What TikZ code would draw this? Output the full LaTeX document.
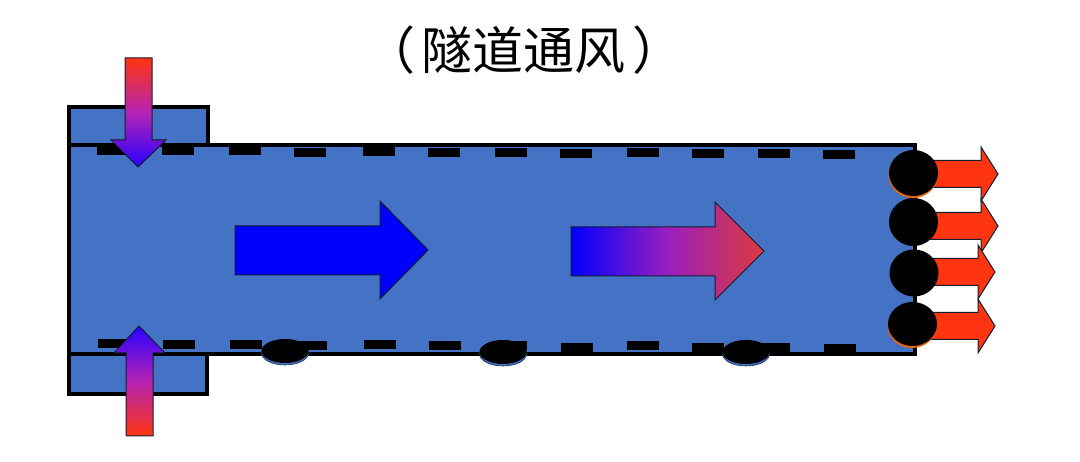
\documentclass[tikz,border=0pt]{standalone}
\usepackage{fontspec}
\newfontfamily\cjk{Noto Sans CJK SC}
\usetikzlibrary{shapes.geometric}
\definecolor{ductblue}{HTML}{4472C4}
\definecolor{flowred}{HTML}{FF3410}
\definecolor{flowblue}{HTML}{2800FF}
\definecolor{flowmid}{HTML}{B424B4}
\definecolor{flowend}{HTML}{DC3A3C}
\definecolor{fanrim}{HTML}{E8660A}
\tikzset{
  duct/.style={draw=black,fill=ductblue,line width=4pt,line join=miter},
  slot/.style={fill=black,draw=none},
  flowline/.style={draw=black!75!ductblue,line width=1pt,line join=miter},
  fan/.style={ellipse,fill=black,draw=none,minimum width=49pt,minimum height=#1,inner sep=0pt},
  damper/.style={ellipse,fill=black,draw=none,minimum width=47pt,minimum height=24pt,inner sep=0pt},
}
\begin{document}
\begin{tikzpicture}[x=1pt,y=-1pt]
  \useasboundingbox (0,0) rectangle (1080,462);
  \node (title) at (524,50) {\fontsize{51}{51}\selectfont\cjk （\hspace{7pt}隧道通风\hspace{7pt}）};
  % ducts and tunnel
  \draw[duct] (69,107) rectangle (208,145);
  \draw[duct] (69,354) rectangle (207,394);
  \draw[duct] (69,145) rectangle (915,354);
  % top slots
  \foreach \xa/\ya in {97/146,162/146,229/146,294/148,363/147,428/148,495/148,560/149,627/148,692/149,758/149,823/150}
    \fill[slot] (\xa,\ya) rectangle ++(32,9);
  % bottom slots
  \foreach \xa/\ya in {98/339,163/340,230/340,295/341,364/340,429/341,495/341,561/343,627/341,692/343,758/343,824/344}
    \fill[slot] (\xa,\ya) rectangle ++(32,9);
  % dampers on the floor
  \foreach \xa/\ya/\nm in {285/351/a,503/352/b,746/352/c} {
    \node[damper,fill=ductblue,draw=black!60!ductblue,line width=.6pt] (rim\nm) at (\xa,\ya+2) {};
    \node[damper] (damper\nm) at (\xa,\ya) {};
  }
  % exhaust arrows
  \foreach \ya/\xa in {174/998,226/998,272/995,326/995}
    \draw[flowline,fill=flowred] (925,\ya-13.5) -- (\xa-17,\ya-13.5) -- (\xa-17,\ya-27) -- (\xa,\ya) -- (\xa-17,\ya+27) -- (\xa-17,\ya+13.5) -- (925,\ya+13.5) -- cycle;
  % fans
  \node[fan=46pt,fill=fanrim] (rima) at (913,175) {};
  \node[fan=46pt] (fana) at (913.5,173) {};
  \node[fan=48pt] (fanb) at (913.5,222) {};
  \node[fan=47pt] (fanc) at (914,273) {};
  \node[fan=44pt,fill=fanrim] (rimd) at (912,326) {};
  \node[fan=44pt] (fand) at (912.5,324) {};
  % inlet arrows
  \draw[flowline,top color=flowred,bottom color=flowblue,middle color=flowmid] (125,58) -- (152,58) -- (152,140) -- (166,140) -- (138,167) -- (111,140) -- (125,140) -- cycle;
  \draw[flowline,top color=flowblue,bottom color=flowred,middle color=flowmid] (126,436) -- (153,436) -- (153,353) -- (165,353) -- (139,326) -- (114,353) -- (126,353) -- cycle;
  % flow arrows
  \draw[flowline,fill=blue] (235,226) -- (380,226) -- (380,201) -- (428,250) -- (380,299) -- (380,275) -- (235,275) -- cycle;
  \draw[flowline,left color=blue,right color=flowend,middle color=flowmid!85!blue] (571,227) -- (715,227) -- (715,202) -- (764,251) -- (715,300) -- (715,276) -- (571,276) -- cycle;
\end{tikzpicture}
\end{document}
